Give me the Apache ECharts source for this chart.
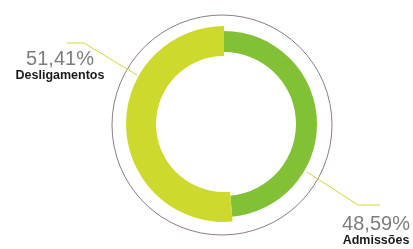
<!DOCTYPE html>
<html><head><meta charset="utf-8">
<script src="https://cdn.jsdelivr.net/npm/echarts@6/dist/echarts.min.js"></script>
<style>html,body{margin:0;padding:0;background:#fff}#c{width:413px;height:249px}</style>
</head><body><div id="c"></div>
<script>
const categories = ['Admissões', 'Desligamentos'];
const values = [48.59, 51.41];

// styles
const colors = ['#82c136', '#cdda2d'];
const radii = [[72, 93], [68, 98]];
const center = [224, 124];
const labelPlaces = [
  { x: 376, y: 215, line: [[307, 172], [358, 205], [380, 205]] },
  { x: 60, y: 50, line: [[137, 75], [84, 43], [67, 43]] }
];

const chart = echarts.init(document.getElementById('c'), null, { renderer: 'canvas' });
const fmt = v => v.toFixed(2).replace('.', ',') + '%';

const series = categories.map((cat, i) => ({
  type: 'pie',
  center: center,
  radius: radii[i],
  startAngle: 90,
  clockwise: true,
  silent: true,
  animation: false,
  avoidLabelOverlap: false,
  emphasis: { disabled: true },
  label: {
    formatter: p => `{p|${fmt(p.value)}}\n{n|${p.name}}`,
    rich: {
      p: { fontFamily: 'Liberation Sans', fontSize: 20, lineHeight: 19, color: '#7d7d7d', align: 'center' },
      n: { fontFamily: 'Liberation Sans', fontWeight: 'bold', fontSize: 12.5, lineHeight: 14, color: '#1a1a1a', align: 'center' }
    }
  },
  labelLine: { lineStyle: { color: '#d6d53c', width: 1 } },
  labelLayout: function (params) {
    const lp = labelPlaces[params.dataIndex];
    return { x: lp.x, y: lp.y, align: 'center', verticalAlign: 'top', labelLinePoints: lp.line };
  },
  data: categories.map((c, j) => ({
    name: c,
    value: values[j],
    itemStyle: { color: j === i ? colors[i] : 'rgba(0,0,0,0)' },
    label: { show: j === i },
    labelLine: { show: j === i }
  }))
}));

chart.setOption({
  backgroundColor: '#ffffff',
  animation: false,
  graphic: [{
    type: 'circle',
    shape: { cx: 222, cy: 125, r: 110 },
    style: { fill: 'none', stroke: '#8c7f80', lineWidth: 1 },
    silent: true
  }],
  series: series
});
</script>
</body></html>
